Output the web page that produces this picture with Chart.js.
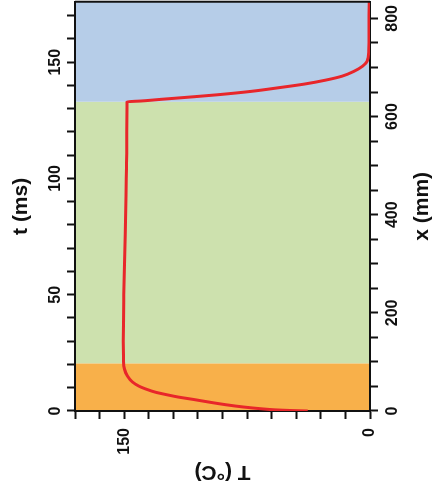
<!DOCTYPE html>
<html>
<head>
<meta charset="utf-8">
<script src="https://cdn.jsdelivr.net/npm/chart.js@4/dist/chart.umd.min.js"></script>
<style>
  html, body { margin: 0; padding: 0; background: #fff; }
  #wrap { position: relative; width: 433px; height: 497px; overflow: hidden; }
  /* the figure is published turned a quarter turn, so draw it upright and turn the canvas */
  #chart { position: absolute; left: 0; top: 0; transform-origin: 0 0; transform: translate(0, 497px) rotate(-90deg); }
</style>
</head>
<body>
<div id="wrap"><canvas id="chart" width="497" height="433"></canvas></div>
<script>
// temperature trace
const timeMs = [0, 0.2, 0.5, 1, 1.7, 2.7, 3.8, 5, 6, 7, 8.1, 9.5, 10.7, 12.5, 15, 18, 22, 30, 50, 76, 100, 120, 133,
  133.3, 134, 135, 136, 137.5, 139, 140.6, 142.3, 144, 146, 148.3, 150.4, 155, 165, 176];
const tempC = [38, 48, 58, 67, 77, 88, 98, 108, 117, 124, 131, 137, 141, 145, 148, 149.8, 150.4, 150.6, 150.2, 149.3, 148.8, 148.4, 148.2,
  140, 128, 110, 93, 72, 56, 40, 27, 17, 10, 4.5, 1.8, 0.8, 0.6, 0.5];

// process phases along t (ms)
const phaseEdges = [0, 20.5, 133, 176];
const phaseColors = ['#F8B04A', '#CDE1AE', '#B6CDE8'];

// labelled ticks
const tLabels = [0, 50, 100, 150];
const xLabels = [0, 200, 400, 600, 800];
const TLabels = [0, 150];

const FONT = 'Liberation Sans, Arial, sans-serif';
const INK = '#111';

const phaseBands = {
  id: 'phaseBands',
  beforeDraw(chart) {
    const {ctx, chartArea: a, scales: {x}} = chart;
    ctx.save();
    for (let i = 0; i < phaseColors.length; i++) {
      const x0 = x.getPixelForValue(phaseEdges[i]);
      const x1 = x.getPixelForValue(phaseEdges[i + 1]);
      ctx.fillStyle = phaseColors[i];
      ctx.fillRect(x0, a.top, x1 - x0, a.bottom - a.top);
    }
    ctx.restore();
  },
  afterDraw(chart) {
    // close the frame on the far side
    const {ctx, chartArea: a} = chart;
    ctx.save();
    ctx.strokeStyle = INK;
    ctx.lineWidth = 2;
    ctx.beginPath();
    ctx.moveTo(a.right, a.top);
    ctx.lineTo(a.right, a.bottom);
    ctx.stroke();
    ctx.restore();
  }
};

const tickFont = {family: FONT, size: 16, weight: 'bold'};
const titleFont = {family: FONT, size: 21, weight: 'bold', lineHeight: 1};

new Chart(document.getElementById('chart'), {
  type: 'scatter',
  data: {
    datasets: [{
      data: timeMs.map((t, i) => ({x: t, y: tempC[i]})),
      showLine: true,
      borderColor: '#E8262A',
      borderWidth: 3,
      pointRadius: 0,
      cubicInterpolationMode: 'monotone',
      xAxisID: 'x',
      yAxisID: 'y'
    }]
  },
  options: {
    responsive: false,
    animation: false,
    layout: {padding: {left: 0, right: 1, top: 0, bottom: 0}},
    plugins: {legend: {display: false}, tooltip: {enabled: false}},
    scales: {
      x: {
        type: 'linear', position: 'top', min: 0, max: 176,
        ticks: {stepSize: 10, includeBounds: false, autoSkip: false, minRotation: 0, maxRotation: 0, padding: 2,
          color: INK, font: tickFont, callback: v => tLabels.includes(v) ? String(v) : ''},
        grid: {drawOnChartArea: false, tickLength: 8, tickWidth: 2, tickColor: INK},
        border: {color: INK, width: 2},
        title: {display: true, text: 't (ms)', color: INK, font: titleFont, padding: {top: 11, bottom: 0}},
        afterFit(s) { s.height = 75; }
      },
      x2: {
        type: 'linear', position: 'bottom', min: 0, max: 834,
        ticks: {stepSize: 50, includeBounds: false, autoSkip: false, minRotation: 0, maxRotation: 0, padding: 5,
          color: INK, font: tickFont, callback: v => xLabels.includes(v) ? String(v) : ''},
        grid: {drawOnChartArea: false, tickLength: 8, tickWidth: 2, tickColor: INK},
        border: {color: INK, width: 2},
        title: {display: true, text: 'x (mm)', color: INK, font: titleFont, padding: {top: 0, bottom: 0}},
        afterFit(s) { s.height = 63; }
      },
      y: {
        type: 'linear', position: 'left', min: 0, max: 180,
        ticks: {stepSize: 15, autoSkip: false, padding: 9,
          color: INK, font: tickFont, callback: v => TLabels.includes(v) ? String(v) : ''},
        grid: {drawOnChartArea: false, tickLength: 8, tickWidth: 2, tickColor: INK},
        border: {color: INK, width: 2},
        title: {display: true, text: 'T (°C)', color: INK, font: titleFont, padding: {top: 15, bottom: 0}},
        afterFit(s) { s.width = 86; }
      }
    }
  },
  plugins: [phaseBands]
});
</script>
</body>
</html>
